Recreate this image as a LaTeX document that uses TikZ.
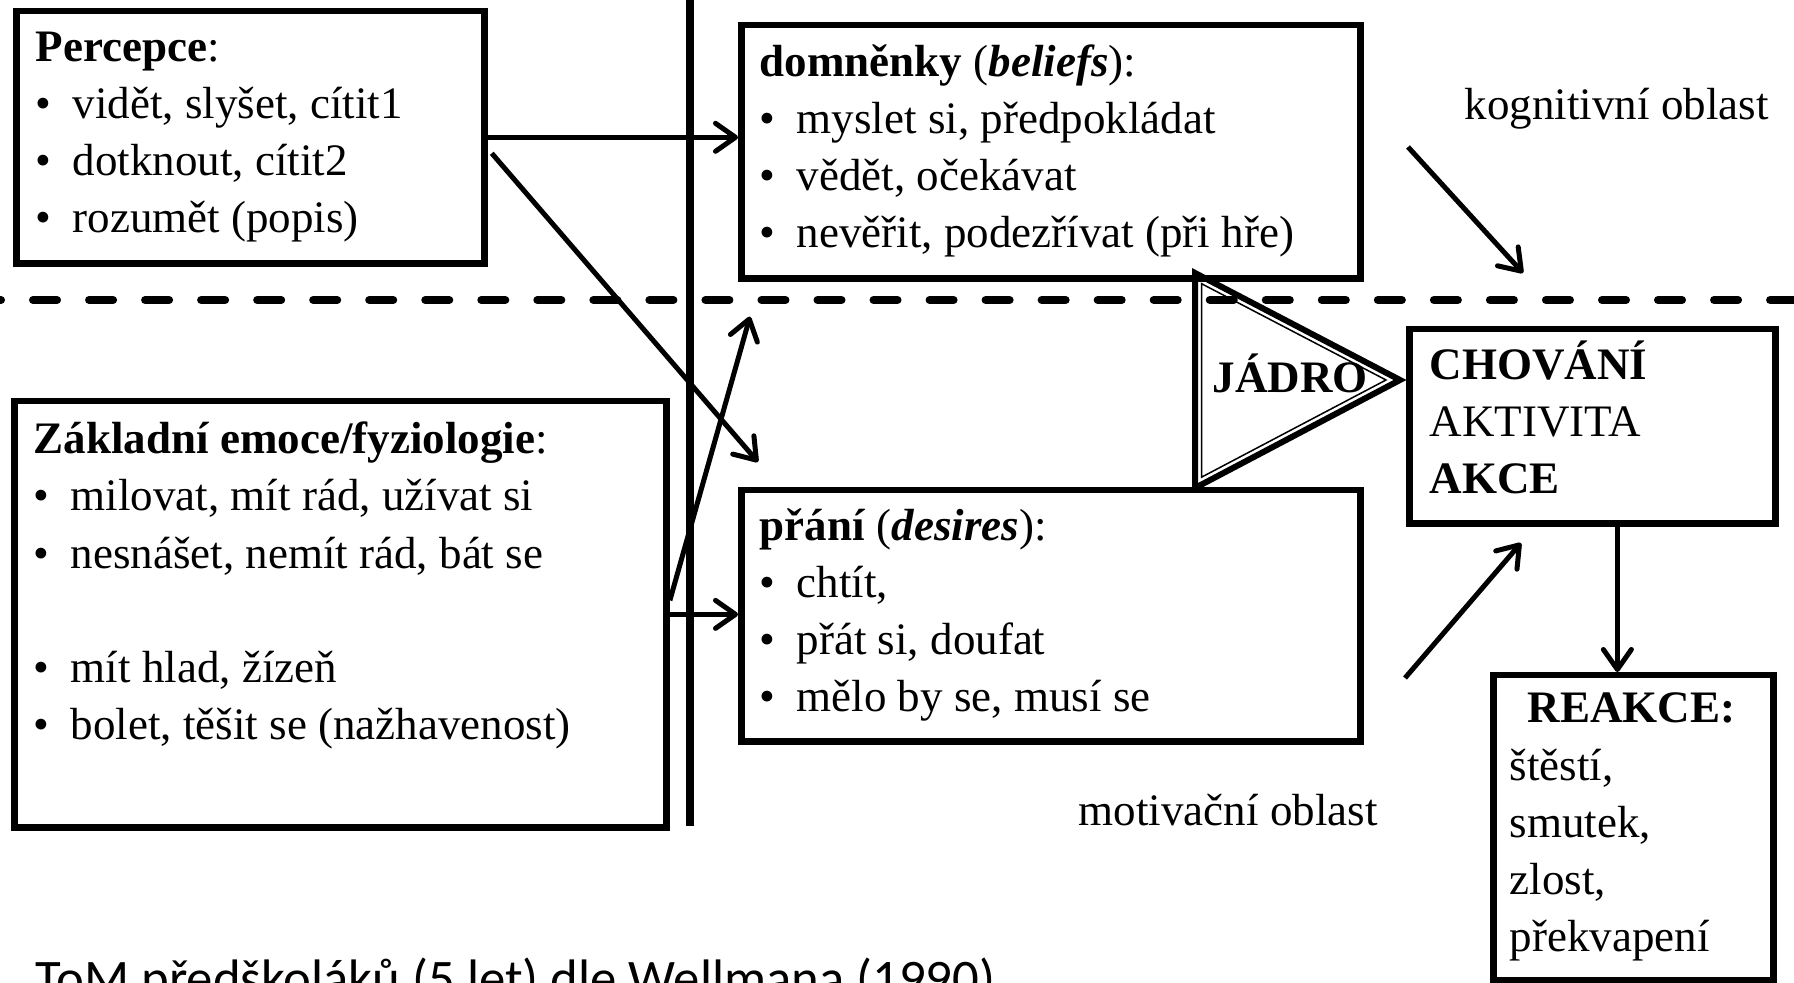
\documentclass[tikz,border=0pt]{standalone}
\usepackage{fontspec}
\setmainfont{Liberation Serif}
\newfontfamily\capfont{Carlito}
\usepackage{tikz}
\usetikzlibrary{arrows.meta, positioning, calc}

\newcommand{\itm}{\makebox[0.37cm][l]{\textbullet}}

\begin{document}
\begin{tikzpicture}[
    x=0.01cm, y=-0.01cm,
    box/.style={rectangle, draw, line width=0.065cm, inner sep=0pt, anchor=north west},
    txt/.style={align=left, inner sep=0pt, anchor=base west,
                font=\fontsize{12.8}{16.3}\selectfont},
    arrow/.style={line width=0.05cm, -{Straight Barb[length=0.2cm, width=0.28cm, round]}},
    border/.style={line width=0.08cm, dash pattern=on 0.24cm off 0.32cm,
                   dash phase=0.23cm, line cap=round}
  ]
  \useasboundingbox (0,0) rectangle (1794,983);

  % boxes
  \node (perc) [box, minimum width=4.68cm, minimum height=2.52cm] at (13,8) {};
  \node (bel)  [box, minimum width=6.19cm, minimum height=2.53cm] at (738,22) {};
  \node (emo)  [box, minimum width=6.52cm, minimum height=4.26cm] at (11,398) {};
  \node (des)  [box, minimum width=6.19cm, minimum height=2.51cm] at (738,487) {};
  \node (beh)  [box, minimum width=3.66cm, minimum height=1.94cm] at (1406,326) {};
  \node (rea)  [box, minimum width=2.80cm, minimum height=3.05cm] at (1490,672) {};

  % dividing lines
  \draw[line width=0.08cm] (690,0) -- (690,826);
  \draw[border] (0,300) -- (1794,300);

  % texts (base = last line)
  \node (percT) [txt] at (35,233) {\textbf{Percepce}:\\%
    \itm vidět, slyšet, cítit1\\%
    \itm dotknout, cítit2\\%
    \itm rozumět (popis)};
  \node (belT) [txt] at (759,248) {\textbf{domněnky} (\textbf{\textit{beliefs}}):\\%
    \itm myslet si, předpokládat\\%
    \itm vědět, očekávat\\%
    \itm nevěřit, podezřívat (při hře)};
  \node (emoT) [txt] at (33,740) {\textbf{Základní emoce/fyziologie}:\\%
    \itm milovat, mít rád, užívat si\\%
    \itm nesnášet, nemít rád, bát se\\[16.3pt]%
    \itm mít hlad, žízeň\\%
    \itm bolet, těšit se (nažhavenost)};
  \node (desT) [txt] at (759,712) {\textbf{přání} (\textbf{\textit{desires}}):\\%
    \itm chtít,\\%
    \itm přát si, doufat\\%
    \itm mělo by se, musí se};
  \node (behT) [txt] at (1429,494) {\textbf{CHOVÁNÍ}\\%
    AKTIVITA\\%
    \textbf{AKCE}};
  \node (reaT) [txt] at (1509,952) {\hspace*{0.18cm}\textbf{REAKCE:}\\%
    štěstí,\\%
    smutek,\\%
    zlost,\\%
    překvapení};
  \node (kog) [txt] at (1464,120) {kognitivní oblast};
  \node (mot) [txt] at (1078,826) {motivační oblast};
  \node (cap) [anchor=base west, inner sep=0pt, font=\capfont\fontsize{15}{18}\selectfont]
    at (35,996) {ToM předškoláků (5 let) dle Wellmana (1990)};

  % core triangle
  \coordinate (ja) at (1195,273);
  \coordinate (jb) at (1195,488);
  \coordinate (jt) at (1400,380);
  \coordinate (jI) at (1260,380);
  \draw[line width=0.06cm, line join=miter] (ja) -- (jt) -- (jb) -- cycle;
  \draw[line width=0.015cm] ($(jI)!0.9!(ja)$) -- ($(jI)!0.9!(jt)$) -- ($(jI)!0.9!(jb)$) -- cycle;
  \node (core) [anchor=base, inner sep=0pt, font=\fontsize{12.8}{16.3}\selectfont\bfseries]
    at (1290,393) {JÁDRO};

  % arrows
  \draw[arrow] (perc.east) -- (perc.east -| bel.west);
  \draw[arrow] ($(perc.east)+(4,16)$) -- ($(des.north west)+(20,-25)$);
  \draw[arrow] ($(emo.east)+(0,-14)$) -- ($(bel.south west)+(12,35)$);
  \draw[arrow] (emo.east) -- (emo.east -| des.west);
  \coordinate (kogA) at (1408,147);
  \coordinate (kogB) at (1523,273);
  \draw[arrow] (kogA) -- (kogB);
  \coordinate (motA) at (1405,678);
  \coordinate (motB) at (1521,543);
  \draw[arrow] (motA) -- (motB);
  \draw[arrow] ($(beh.south)+(25,0)$) coordinate (r) -- (r |- rea.north);
\end{tikzpicture}
\end{document}
